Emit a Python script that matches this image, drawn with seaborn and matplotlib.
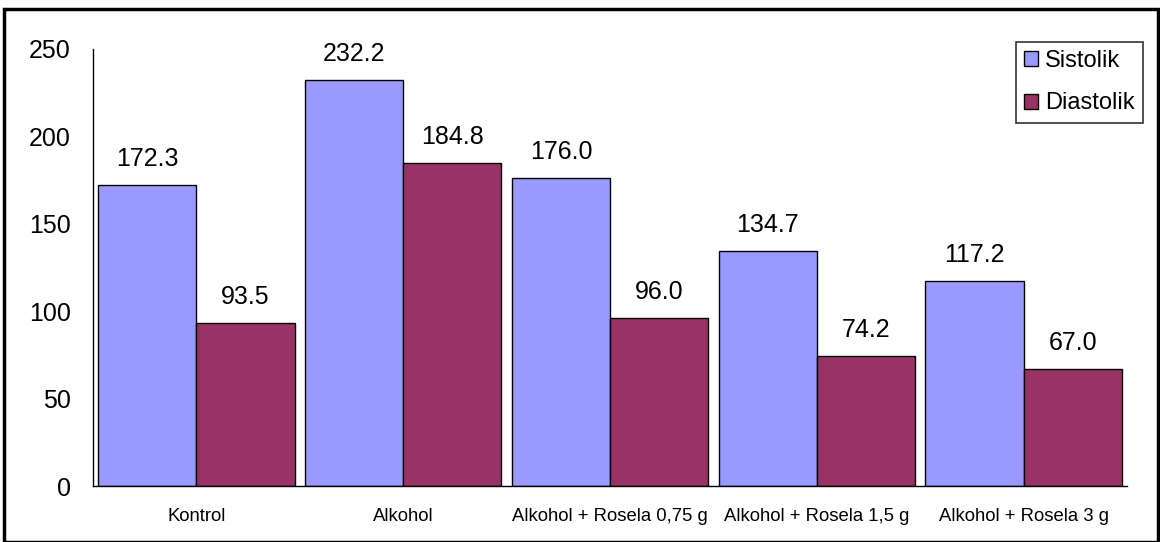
import matplotlib
matplotlib.use("Agg")
import matplotlib.pyplot as plt
import seaborn as sns
import pandas as pd
from matplotlib.patches import Rectangle

categories = ["Kontrol", "Alkohol", "Alkohol + Rosela 0,75 g", "Alkohol + Rosela 1,5 g", "Alkohol + Rosela 3 g"]
sistolik = [172.3, 232.2, 176.0, 134.7, 117.2]
diastolik = [93.5, 184.8, 96.0, 74.2, 67.0]
series = ["Sistolik", "Diastolik"]
yticks = [0, 50, 100, 150, 200, 250]

df = pd.DataFrame({
    "Kelompok": categories * 2,
    "Nilai": sistolik + diastolik,
    "Seri": [series[0]] * len(categories) + [series[1]] * len(categories),
})

sns.set_theme(style="white")
plt.rcParams["font.family"] = ["Liberation Sans", "DejaVu Sans"]
plt.rcParams["text.color"] = "black"
plt.rcParams["xtick.color"] = "black"
plt.rcParams["ytick.color"] = "black"

fig = plt.figure(figsize=(11.6, 5.42), dpi=100)
ax = fig.add_axes([0.0802, 0.1033, 0.8914, 0.8063])

sns.barplot(data=df, x="Kelompok", y="Nilai", hue="Seri", order=categories,
            hue_order=series, palette=["#9999FF", "#993366"], width=0.95,
            edgecolor="black", linewidth=1.0, saturation=1, ax=ax, legend=True)

for cont in ax.containers:
    ax.bar_label(cont, fmt="%.1f", padding=10, fontsize=18, color="black")

ax.set_ylim(0, 250)
ax.set_xlim(-0.5, len(categories) - 0.5)
ax.set_yticks(yticks)
ax.set_yticklabels([str(v) for v in yticks], fontsize=18)
ax.set_xlabel("")
ax.set_ylabel("")

# category labels centered, ticks at boundaries
ax.set_xticks(range(len(categories)))
ax.set_xticklabels(categories, fontsize=13.3)
ax.tick_params(axis="x", which="major", length=0, pad=16)
ax.set_xticks([i - 0.5 for i in range(len(categories) + 1)], minor=True)
ax.tick_params(axis="x", which="minor", length=5, width=1, color="black", direction="out")
ax.tick_params(axis="y", length=7, width=1, color="black", direction="out", pad=9)

for s in ["top", "right"]:
    ax.spines[s].set_visible(False)
for s in ["left", "bottom"]:
    ax.spines[s].set_color("black")
    ax.spines[s].set_linewidth(1)

leg = ax.legend(loc="upper right", bbox_to_anchor=(1143 / 1160, 1 - 42 / 542),
                bbox_transform=fig.transFigure, fontsize=17, frameon=True,
                fancybox=False, edgecolor="black", handlelength=0.6, handleheight=0.6,
                labelspacing=0.85, borderpad=0.35, handletextpad=0.3, borderaxespad=0)
leg.get_frame().set_linewidth(1.2)
for h in leg.legend_handles:
    h.set_edgecolor("black")
    h.set_linewidth(1)

fig.patches.append(Rectangle((4 / 1160, 0), 1 - 6 / 1160, 1 - 9 / 542, transform=fig.transFigure,
                             fill=False, edgecolor="black", linewidth=2.5))

fig.savefig("out.png", dpi=100)
